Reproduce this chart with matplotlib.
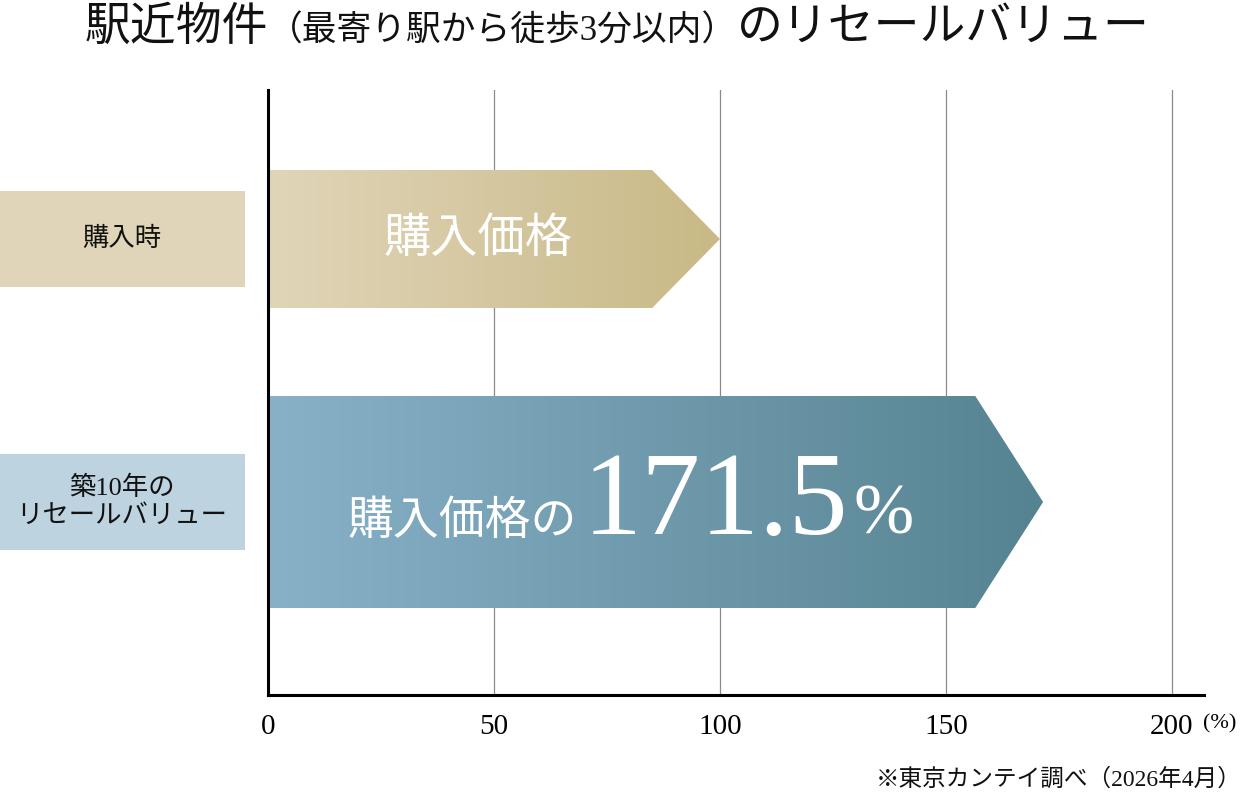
import matplotlib
matplotlib.use('Agg')
import matplotlib.pyplot as plt
import numpy as np
from matplotlib.colors import LinearSegmentedColormap
from matplotlib.patches import Polygon, Rectangle
from matplotlib.offsetbox import TextArea, HPacker, AnnotationBbox
import matplotlib.transforms as mtransforms

# データ
categories = ['購入時', '築10年の\nリセールバリュー']
values = [100, 171.5]
bar_texts = ['購入価格', '購入価格の']
value_text = '171.5'
ticks = [0, 50, 100, 150, 200]
title_main = '駅近物件'
title_sub = '（最寄り駅から徒歩3分以内）'
title_end = 'のリセールバリュー'
note = '※東京カンテイ調べ（2026年4月）'

# スタイル
plt.rcParams['font.family'] = ['Liberation Serif', 'Noto Sans CJK JP', 'DejaVu Sans']
bar_y = [456, 193]          # 行の中心
bar_h = [138, 212]          # 矢印の高さ
head = 15                   # 矢印の先端の長さ
grad_colors = [('#E1D5B9', '#C8B986'), ('#88B1C8', '#568391')]
box_colors = ['#E0D5B8', '#BDD4E0']

fig = plt.figure(figsize=(12.44, 7.98), dpi=100)
ax = fig.add_axes([268 / 1244, 103 / 798, 936 / 1244, 605 / 798])

for i, v in enumerate(values):
    yc, h = bar_y[i], bar_h[i]
    y0, y1 = yc - h / 2, yc + h / 2
    pts = [(0, y0), (v - head, y0), (v, yc), (v - head, y1), (0, y1)]
    poly = Polygon(pts, closed=True, facecolor='none', edgecolor='none')
    ax.add_patch(poly)
    cmap = LinearSegmentedColormap.from_list('g%d' % i, grad_colors[i])
    grad = np.linspace(0, 1, 256).reshape(1, -1)
    im = ax.imshow(grad, extent=[0, v, y0, y1], aspect='auto', cmap=cmap,
                   zorder=3, interpolation='bicubic')
    im.set_clip_path(poly)

ax.set_xlim(0, 207.1)
ax.set_ylim(0, 605)

# グリッド
for t in ticks[1:]:
    ax.axvline(t, color='#8a8a8a', linewidth=0.9, zorder=1)

for s in ['top', 'right']:
    ax.spines[s].set_visible(False)
for s in ['left', 'bottom']:
    ax.spines[s].set_linewidth(2.2)
    ax.spines[s].set_color('black')
    ax.spines[s].set_zorder(5)
ax.set_yticks([])
ax.set_xticks(ticks)
ax.set_xticklabels([str(t) for t in ticks], fontsize=21)
ax.tick_params(axis='x', length=0, pad=14)
fig.text(1220 / 1244, 1 - 724 / 798, '(%)', fontsize=16,
         ha='center', va='center', family=['Liberation Serif'])

# 矢印内のテキスト
ax.text(46.5, bar_y[0], bar_texts[0], color='white', fontsize=34,
        ha='center', va='center', zorder=6, family=['Noto Sans CJK JP'])

pack = HPacker(children=[
    TextArea(bar_texts[1], textprops=dict(color='white', fontsize=33,
                                          family=['Noto Sans CJK JP'])),
    TextArea(value_text, textprops=dict(color='white', fontsize=85,
                                        family=['Liberation Serif'])),
    TextArea('%', textprops=dict(color='white', fontsize=52,
                                 family=['Liberation Serif'])),
], align='baseline', pad=0, sep=4)
ab = AnnotationBbox(pack, (80.3, bar_y[1] - 3), xycoords='data', frameon=False,
                    box_alignment=(0.5, 0.5), zorder=6)
ax.add_artist(ab)

# 左側のラベル
trans = mtransforms.blended_transform_factory(fig.transFigure, ax.transData)
for i, lab in enumerate(categories):
    rect = Rectangle((0, bar_y[i] - 48), 245 / 1244, 96, transform=trans,
                     facecolor=box_colors[i], edgecolor='none', clip_on=False)
    fig.add_artist(rect)
    fig.text(122 / 1244, bar_y[i], lab, transform=trans, fontsize=19,
             ha='center', va='center', linespacing=1.3, color='#111111')

# タイトル
title = HPacker(children=[
    TextArea(title_main, textprops=dict(fontsize=33, color='#111111')),
    TextArea(title_sub, textprops=dict(fontsize=25, color='#111111')),
    TextArea(title_end, textprops=dict(fontsize=33, color='#111111')),
], align='baseline', pad=0, sep=0)
tb = AnnotationBbox(title, (617 / 1244, 1 - 29 / 798), xycoords='figure fraction',
                    frameon=False, box_alignment=(0.5, 0.5))
fig.add_artist(tb)

fig.text(1242 / 1244, 1 - 780 / 798, note, fontsize=17, ha='right', va='center',
         color='#111111')

fig.savefig('out.png', dpi=100)
